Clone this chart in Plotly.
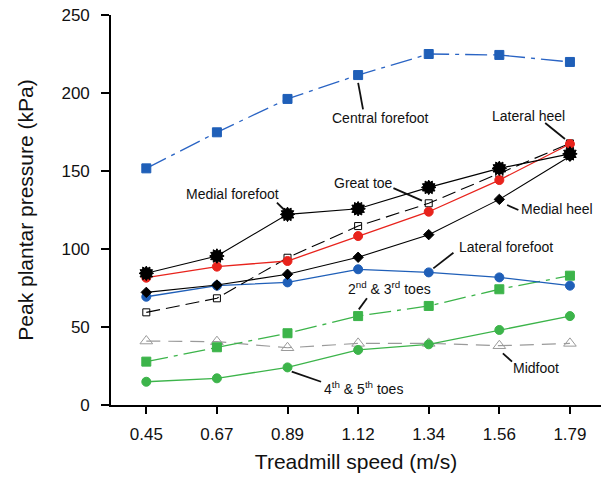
import plotly.graph_objects as go

speeds = ["0.45", "0.67", "0.89", "1.12", "1.34", "1.56", "1.79"]

central_forefoot = [151.7, 174.8, 196.2, 211.5, 225.0, 224.4, 219.9]
medial_forefoot = [84.4, 95.5, 122.2, 125.8, 139.5, 151.7, 161.0]
great_toe = [59.4, 68.4, 94.4, 114.7, 129.3, 148.5, 167.7]
lateral_heel = [81.6, 88.7, 92.3, 108.3, 123.9, 144.2, 167.3]
medial_heel = [72.2, 76.9, 83.8, 94.7, 109.2, 131.8, 159.5]
lateral_forefoot = [69.4, 76.5, 78.6, 87.0, 85.0, 81.8, 76.5]
toes_2_3 = [27.8, 37.0, 46.0, 57.0, 63.5, 74.2, 82.9]
toes_4_5 = [14.9, 17.1, 24.1, 35.3, 38.9, 48.1, 57.0]
midfoot = [41.0, 40.6, 36.7, 39.5, 39.5, 38.0, 39.5]

BLUE = "#1f5fb8"
RED = "#e8231c"
GREEN = "#3cb44a"
GRAY = "#9a9a9a"
BLACK = "#000000"
FONT = "Liberation Sans, Arial, Helvetica, sans-serif"

fig = go.Figure()

def add(y, color, dash, symbol, size, mfill=None, mline=None, width=1.3, angle=0, show_line=True):
    fig.add_trace(go.Scatter(
        x=speeds, y=y,
        mode="lines+markers" if show_line else "markers",
        line=dict(color=color, width=width, dash=dash),
        marker=dict(symbol=symbol, size=size, color=mfill if mfill else color,
                    angle=angle,
                    line=dict(color=mline if mline else (mfill if mfill else color), width=1)),
        showlegend=False, hoverinfo="skip", cliponaxis=False,
    ))

# draw order
add(midfoot, GRAY, "14px,8px", "triangle-up-open", 11, mfill=GRAY, mline=GRAY, width=1.2)
add(toes_4_5, GREEN, "solid", "circle", 9)
add(toes_2_3, GREEN, "22px,6px,4px,6px", "square", 9)
add(lateral_forefoot, BLUE, "solid", "circle", 9)
add(great_toe, BLACK, "14px,6px", "square-open", 7, width=1.1)
add(medial_heel, BLACK, "solid", "diamond", 8, width=1.1)
add(lateral_heel, RED, "solid", "circle", 9)
add(medial_forefoot, BLACK, "solid", "hexagram", 11, width=1.1)
add(medial_forefoot, BLACK, "solid", "hexagram", 11, angle=30, show_line=False)
add(central_forefoot, "#2a64c4", "22px,6px,4px,6px", "square", 9, mfill=BLUE)

shapes = []

def label(text, tx, ty, tipx, tipy, tailx, taily):
    shapes.append(dict(type="line", xref="x", yref="y", x0=tailx, y0=taily, x1=tipx, y1=tipy,
                       line=dict(color="#111111", width=1.8)))
    fig.add_annotation(x=tx, y=ty, xref="x", yref="y", text=text, showarrow=False,
                       font=dict(family=FONT, size=14, color="#111111"))

label("Central forefoot", 3.31, 184.0, 3.00, 206.5, 3.07, 189.5)
label("Lateral heel", 5.41, 185.3, 5.93, 170.5, 5.65, 180.8)
label("Great toe", 3.07, 142.6, 3.905, 131.0, 3.50, 139.0)
label("Medial forefoot", 1.225, 135.3, 1.955, 125.0, 1.85, 129.7)
label("Medial heel", 5.82, 125.6, 5.11, 128.2, 5.27, 125.0)
label("Lateral forefoot", 5.095, 101.0, 4.065, 87.6, 4.35, 97.6)
label("2<sup>nd</sup> &amp; 3<sup>rd</sup> toes", 3.44, 75.3, 3.01, 61.3, 3.125, 68.4)
label("Midfoot", 5.52, 24.0, 5.05, 33.1, 5.18, 27.8)
label("4<sup>th</sup> &amp; 5<sup>th</sup> toes", 3.07, 10.9, 2.06, 21.4, 2.475, 14.9)

fig.update_layout(
    width=601, height=477,
    margin=dict(l=111, r=0, t=15, b=72, autoexpand=False),
    paper_bgcolor="white", plot_bgcolor="white",
    font=dict(family=FONT, color="#111111"),
    shapes=shapes,
    xaxis=dict(
        type="category", range=[-0.5, 6.44],
        showgrid=False, zeroline=False,
        showline=True, linecolor=BLACK, linewidth=1.6,
        ticks="outside", ticklen=7, tickwidth=1.5, tickcolor=BLACK,
        tickfont=dict(family=FONT, size=17, color="#111111"),
        ticklabelstandoff=6,
        title=dict(text="Treadmill speed (m/s)", font=dict(family=FONT, size=21, color="#111111"), standoff=11),
    ),
    yaxis=dict(
        range=[0, 250], tickvals=[0, 50, 100, 150, 200, 250],
        showgrid=False, zeroline=False,
        showline=True, linecolor=BLACK, linewidth=1.6,
        ticks="outside", ticklen=8, tickwidth=1.5, tickcolor=BLACK,
        tickfont=dict(family=FONT, size=17, color="#111111"),
        ticklabelstandoff=8,
        title=dict(text="Peak plantar pressure (kPa)", font=dict(family=FONT, size=21, color="#111111"), standoff=22),
    ),
)

fig.write_html("out.html")
